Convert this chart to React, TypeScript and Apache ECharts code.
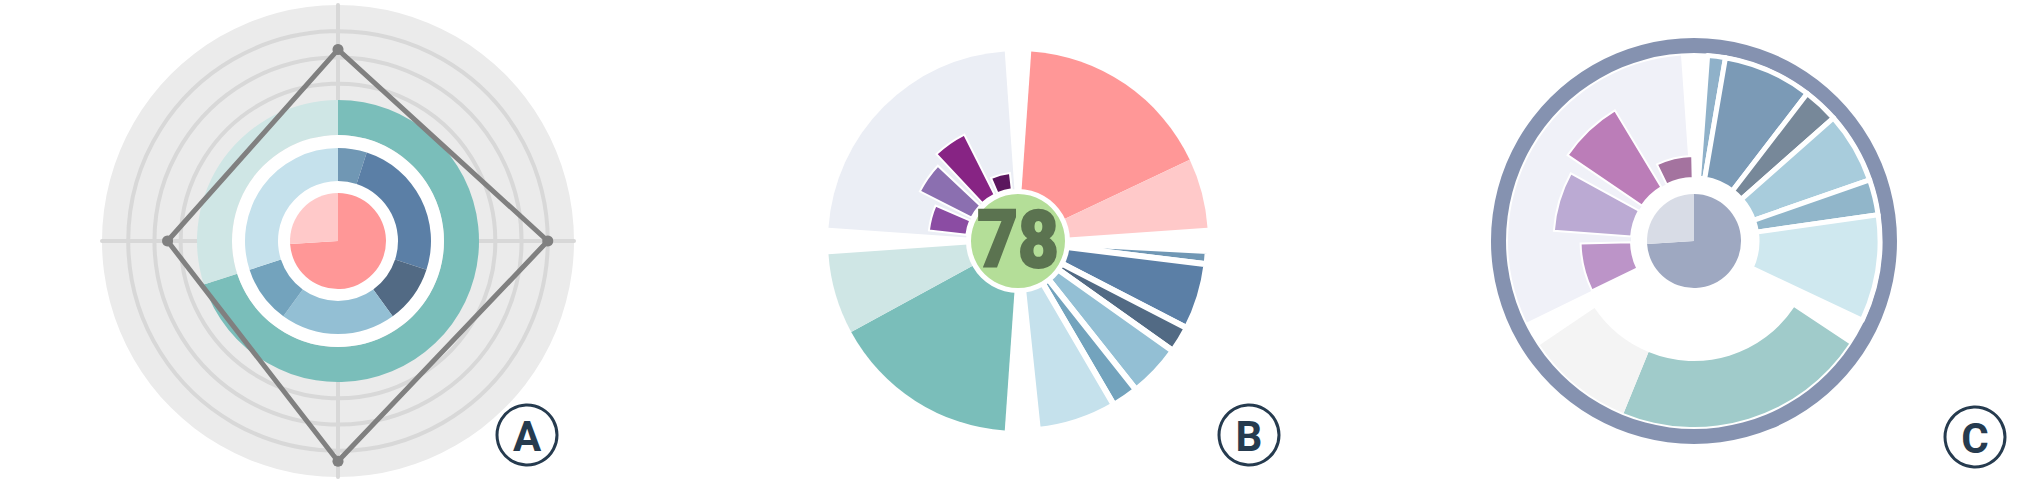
import React, { useEffect, useRef } from 'react';
import * as echarts from 'echarts';

// ---------- data ----------
const PINK_VALUES = [74, 26];
const BLUE_VALUES = [5, 25, 10, 20, 10, 30];
const TEAL_VALUES = [70, 30];
const LAVENDER_VALUES = [100];
const PURPLE_VALUES = [41, 63, 73, 18];
const RADAR_INDICATORS = ['N', 'W', 'S', 'E'];
const RADAR_VALUES = [73, 65, 84, 80];
const RADAR_MAX = 90;
const SCORE = 78;
const PANEL_LABELS = ['A', 'B', 'C'];
const B_SLOTS = Array.from({ length: 18 }, (_, i) => 'b' + i);
const C_SLOTS = Array.from({ length: 12 }, (_, i) => 'c' + i);

// ---------- colours ----------
const A_PINK = ['#FF9797', '#FFC9C9'];
const A_BLUE = ['#7097B4', '#5B7FA6', '#526A84', '#93BFD4', '#73A3BD', '#C5E1EC'];
const A_TEAL = ['#7ABEBA', '#CFE6E5'];
const B_LAV = ['#EBEEF5'];
const B_PURPLE = ['#8B4CA3', '#8B6FB0', '#872484', '#5B165E'];
const C_CENTER = ['#9EA8C1', '#D8DCE6'];
const C_BLUE = ['#8FB1C9', '#7B9AB6', '#778899', '#A8CCDC', '#91B6CA', '#CFE8EF'];
const C_TEAL = ['#A0CBCA', '#F4F4F4'];
const C_LAV = ['#F0F1F8'];
const C_PURPLE = ['#BC94C8', '#BBAAD3', '#BB7DB8', '#A4739F'];
const INK = '#263B4F';

const CA: [number, number] = [338, 241];
const CB: [number, number] = [1018, 241];
const CC: [number, number] = [1694, 241];

const pieBase = {
  type: 'pie',
  silent: true,
  clockwise: true,
  label: { show: false },
  labelLine: { show: false },
  emphasis: { disabled: true },
  avoidLabelOverlap: false,
};

function fullPie(center: number[], radius: any, values: number[], colors: string[], z: number) {
  return {
    ...pieBase,
    center,
    radius,
    z,
    startAngle: 90,
    data: values.map((v, i) => ({ value: v, itemStyle: { color: colors[i], borderWidth: 0 } })),
  };
}

function groupPie(
  center: number[],
  radius: any,
  values: number[],
  colors: string[],
  startDeg: number,
  spanDeg: number,
  z: number,
  border: number
) {
  const sum = values.reduce((a, b) => a + b, 0);
  const data: any[] = values.map((v, i) => ({
    value: (v * spanDeg) / sum,
    itemStyle: { color: colors[i], borderColor: '#ffffff', borderWidth: border },
  }));
  data.push({ value: 360 - spanDeg, itemStyle: { color: 'rgba(0,0,0,0)', borderWidth: 0 } });
  return {
    ...pieBase,
    center,
    radius,
    z,
    startAngle: (((90 - startDeg) % 360) + 360) % 360,
    data,
  };
}

function purpleBars(polarIndex: number, slots: string[], first: number, colors: string[]) {
  return {
    type: 'bar',
    coordinateSystem: 'polar',
    polarIndex,
    silent: true,
    z: 4,
    barCategoryGap: '18%',
    data: slots.map((_, i) =>
      i >= first && i - first < PURPLE_VALUES.length
        ? {
            value: PURPLE_VALUES[i - first],
            itemStyle: { color: colors[i - first], borderColor: '#ffffff', borderWidth: 2 },
          }
        : '-'
    ),
  };
}

const labelPos = [
  [527, 435],
  [1249, 435],
  [1975, 437],
];

const graphics: any[] = [];
PANEL_LABELS.forEach((t, i) => {
  graphics.push({
    type: 'circle',
    shape: { cx: labelPos[i][0], cy: labelPos[i][1], r: 30 },
    style: { fill: '#ffffff', stroke: INK, lineWidth: 3 },
    z: 20,
  });
  graphics.push({
    type: 'text',
    x: labelPos[i][0],
    y: labelPos[i][1] + 1,
    style: {
      text: t,
      fontSize: 42,
      fontWeight: 'bold',
      fontFamily: 'Roboto, "Noto Sans", sans-serif',
      fill: INK,
      align: 'center',
      verticalAlign: 'middle',
      textAlign: 'center',
      textVerticalAlign: 'middle',
    },
    z: 21,
  });
});
graphics.push({
  type: 'text',
  x: CB[0],
  y: CB[1] - 2,
  scaleX: 0.88,
  style: {
    text: String(SCORE),
    fontSize: 80,
    fontWeight: 900,
    fontFamily: 'Roboto, "Noto Sans", sans-serif',
    fill: '#5B7350',
    stroke: '#5B7350',
    lineWidth: 2,
    align: 'center',
    verticalAlign: 'middle',
    textAlign: 'center',
    textVerticalAlign: 'middle',
  },
  z: 22,
});

const splitLineColors = Array.from({ length: 10 }, (_, i) => (i === 9 ? 'rgba(0,0,0,0)' : '#D8D8D8'));

const option: any = {
  animation: false,
  backgroundColor: '#ffffff',
  radar: {
    center: CA,
    radius: 236,
    startAngle: 90,
    shape: 'circle',
    splitNumber: 9,
    silent: true,
    indicator: RADAR_INDICATORS.map((n) => ({ name: n, min: 0, max: RADAR_MAX })),
    axisName: { show: false },
    axisLabel: { show: false },
    axisTick: { show: false },
    axisLine: { lineStyle: { color: '#D8D8D8', width: 4 } },
    splitLine: { lineStyle: { color: splitLineColors, width: 4 } },
    splitArea: { show: true, areaStyle: { color: ['#EBEBEB'] } },
  },
  polar: [
    { center: CB, radius: [52, 190] },
    { center: CC, radius: [63, 186] },
  ],
  angleAxis: [
    { polarIndex: 0, type: 'category', data: B_SLOTS, startAngle: 95, clockwise: true, show: false },
    { polarIndex: 1, type: 'category', data: C_SLOTS, startAngle: 88.5, clockwise: true, show: false },
  ],
  radiusAxis: [
    { polarIndex: 0, type: 'value', min: 0, max: 150, show: false },
    { polarIndex: 1, type: 'value', min: 0, max: 100, show: false },
  ],
  graphic: graphics,
  series: [
    // ---- Panel A ----
    fullPie(CA, [106, 141], TEAL_VALUES, A_TEAL, 2),
    fullPie(CA, [0, 106], [1], ['#ffffff'], 2),
    fullPie(CA, [60, 93], BLUE_VALUES, A_BLUE, 3),
    fullPie(CA, [0, 48], PINK_VALUES, A_PINK, 3),
    {
      type: 'radar',
      silent: true,
      z: 6,
      symbol: 'circle',
      symbolSize: 11,
      lineStyle: { color: '#808080', width: 5 },
      itemStyle: { color: '#808080' },
      data: [{ value: RADAR_VALUES }],
    },
    // ---- Panel B ----
    groupPie(CB, [0, 190], PINK_VALUES, A_PINK, 4, 82, 2, 0),
    groupPie(CB, [0, 190], BLUE_VALUES, A_BLUE, 93, 81, 2, 6),
    groupPie(CB, [0, 190], TEAL_VALUES, A_TEAL, 184, 82, 2, 0),
    groupPie(CB, [0, 190], LAVENDER_VALUES, B_LAV, 274, 82, 2, 0),
    purpleBars(0, B_SLOTS, 14, B_PURPLE),
    fullPie(CB, [0, 52], [1], ['#ffffff'], 8),
    fullPie(CB, [0, 47], [SCORE], ['#B4DE98'], 9),
    // ---- Panel C ----
    fullPie(CC, [188, 203], [1], ['#8592B0'], 2),
    groupPie(CC, [63, 186], BLUE_VALUES, C_BLUE, 4.2, 111, 2, 5),
    groupPie(CC, [120, 186], TEAL_VALUES, C_TEAL, 123.5, 112.5, 2, 0),
    groupPie(CC, [63, 186], LAVENDER_VALUES, C_LAV, 244, 112, 2, 0),
    purpleBars(1, C_SLOTS, 8, C_PURPLE),
    fullPie(CC, [0, 47], PINK_VALUES, C_CENTER, 3),
  ],
};

export default function App() {
  const ref = useRef<HTMLDivElement>(null);
  useEffect(() => {
    if (!ref.current) return;
    const chart = echarts.init(ref.current, undefined, { renderer: 'svg', width: 2033, height: 483 });
    chart.setOption(option);
    return () => chart.dispose();
  }, []);
  return (
    <div
      ref={ref}
      style={{ position: 'fixed', left: 0, top: 0, width: 2033, height: 483, background: '#ffffff' }}
    />
  );
}
